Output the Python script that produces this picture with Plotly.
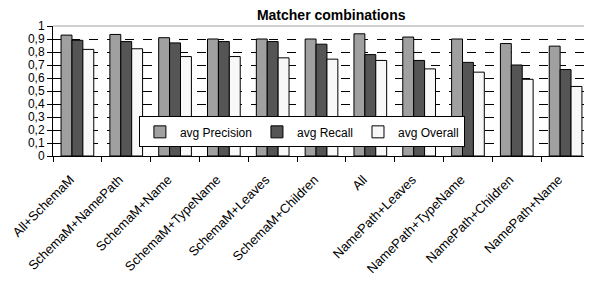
import plotly.graph_objects as go

categories = ["All+SchemaM", "SchemaM+NamePath", "SchemaM+Name", "SchemaM+TypeName",
              "SchemaM+Leaves", "SchemaM+Children", "All", "NamePath+Leaves",
              "NamePath+TypeName", "NamePath+Children", "NamePath+Name"]
precision = [0.93, 0.935, 0.91, 0.90, 0.90, 0.90, 0.94, 0.915, 0.90, 0.865, 0.845]
recall = [0.89, 0.88, 0.87, 0.88, 0.88, 0.86, 0.78, 0.735, 0.72, 0.70, 0.665]
overall = [0.82, 0.825, 0.765, 0.765, 0.755, 0.745, 0.735, 0.67, 0.645, 0.59, 0.535]

series = [("avg Precision", precision, "#a0a0a0"),
          ("avg Recall", recall, "#555555"),
          ("avg Overall", overall, "#f8f8f8")]

fig = go.Figure()
for name, vals, color in series:
    fig.add_trace(go.Bar(x=categories, y=vals, name=name,
                         marker=dict(color=color, line=dict(color="black", width=1))))

font = "Liberation Sans, Arial, sans-serif"
fig.update_layout(
    width=592, height=283,
    margin=dict(l=45, r=10, t=18, b=135, autoexpand=False),
    paper_bgcolor="white", plot_bgcolor="white",
    barmode="group", bargap=0.33, bargroupgap=0,
    font=dict(family=font, size=13, color="black"),
    title=dict(text="<b>Matcher combinations</b>", x=0.546, xanchor="center",
               y=0.975, yanchor="middle", font=dict(size=14, family=font), automargin=False),
    legend=dict(orientation="h", x=0.16, y=0.305, xanchor="left", yanchor="top",
                bgcolor="white", bordercolor="black", borderwidth=1,
                font=dict(size=12, family=font), itemwidth=30, tracegroupgap=0),
    showlegend=True,
)
fig.update_xaxes(tickangle=-45, tickson="boundaries", ticks="outside", ticklen=5,
                 tickcolor="black", showline=True, linecolor="black", linewidth=1,
                 showgrid=False, tickfont=dict(size=13), automargin=False,
                 ticklabelstandoff=10, ticklabelshift=-7)
fig.update_yaxes(range=[0, 1], ticks="outside", ticklen=5,
                 tickcolor="black", showline=True, linecolor="black", linewidth=1,
                 showgrid=True, gridcolor="black", griddash="dash", gridwidth=1,
                 zeroline=False, tickfont=dict(size=12), automargin=False,
                 tickvals=[0, 0.1, 0.2, 0.3, 0.4, 0.5, 0.6, 0.7, 0.8, 0.9, 1],
                 ticktext=["0", "0,1", "0,2", "0,3", "0,4", "0,5", "0,6", "0,7", "0,8", "0,9", "1"])
fig.add_shape(type="line", xref="x domain", yref="y domain", x0=0, x1=1, y0=1, y1=1,
              line=dict(color="#a0a0a0", width=1), layer="above")
fig.write_html("out.html")
